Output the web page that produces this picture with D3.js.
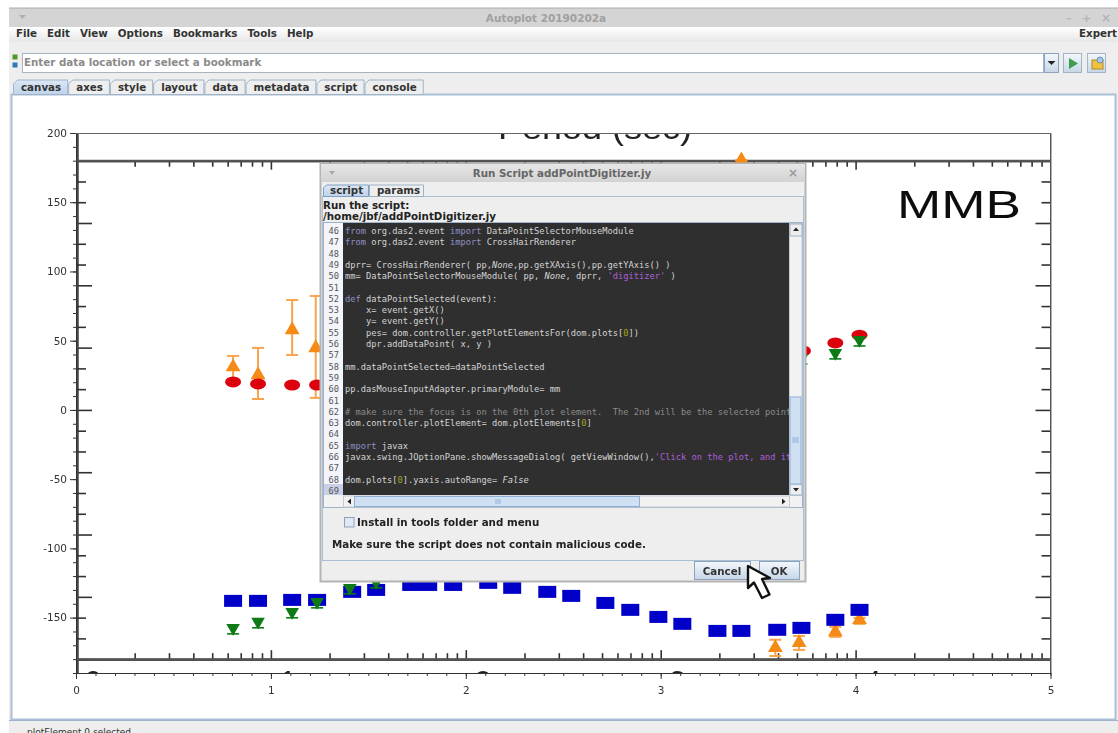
<!DOCTYPE html>
<html>
<head>
<meta charset="utf-8">
<script src="https://cdn.jsdelivr.net/npm/d3@7/dist/d3.min.js"></script>
<style>
html,body{margin:0;padding:0;background:#fff;overflow:hidden}
svg{display:block}
text{font-family:"DejaVu Sans",sans-serif}
</style>
</head>
<body>
<script>
var width = 1118;
var height = 733;

// chart values. x is log10(period), y is phase in degrees
var blue_x = [0.806,0.934,1.109,1.237,1.417,1.54,1.72,1.807,1.935,2.115,2.238,2.418,2.541,2.716,2.844,2.988,3.111,3.291,3.414,3.598,3.722,3.896,4.02];
var blue_y = [-137.9,-137.9,-137.2,-137.2,-131.4,-130,-126.4,-126.4,-126.4,-124.9,-128.5,-131.4,-134.3,-139.4,-144.4,-149.5,-154.5,-159.6,-159.6,-158.8,-157.4,-151.6,-144.4];
var green_x = [0.806,0.934,1.109,1.237,1.405,1.54,3.722,3.896,4.02];
var green_y = [-157.4,-153,-145.8,-138.6,-128.5,-124.2,37.5,41.2,50.5];
var red_x = [0.806,0.934,1.109,1.237,3.73,3.896,4.02];
var red_y = [20.2,18.8,18,18,42.6,48.4,54];
var orange_x = [0.806,0.934,1.109,1.23,3.414,3.588,3.71,3.896,4.02];
var orange_y = [31,25.3,57.8,44.8,180.5,-171.8,-168.2,-160.3,-151.6];
var orange_hi = [39,44.8,79.4,82.3,180.5,-166,-163.2,-156.6,-150.2];
var orange_lo = [19.5,7.9,39.7,8.7,180.5,-177.7,-173.3,-163.9,-154.5];

var y_labels = [200,150,100,50,0,-50,-100,-150];
var x_labels = [0,1,2,3,4,5];
var decades = [1,2,3,4];
var decade_names = ["0","1","2","3","4"];

var menus = ["File","Edit","View","Options","Bookmarks","Tools","Help"];
var tabs = ["canvas","axes","style","layout","data","metadata","script","console"];
var code_start = 46;
var code_lines = [
"from org.das2.event import DataPointSelectorMouseModule",
"from org.das2.event import CrossHairRenderer",
"",
"dprr= CrossHairRenderer( pp,None,pp.getXAxis(),pp.getYAxis() )",
"mm= DataPointSelectorMouseModule( pp, None, dprr, 'digitizer' )",
"",
"def dataPointSelected(event):",
"    x= event.getX()",
"    y= event.getY()",
"    pes= dom.controller.getPlotElementsFor(dom.plots[0])",
"    dpr.addDataPoint( x, y )",
"",
"mm.dataPointSelected=dataPointSelected",
"",
"pp.dasMouseInputAdapter.primaryModule= mm",
"",
"# make sure the focus is on the 0th plot element.  The 2nd will be the selected point",
"dom.controller.plotElement= dom.plotElements[0]",
"",
"import javax",
"javax.swing.JOptionPane.showMessageDialog( getViewWindow(),'Click on the plot, and it",
"",
"dom.plots[0].yaxis.autoRange= False",
""
];

var svg = d3.select('body').append('svg').attr('width', width).attr('height', height);
var defs = svg.append('defs');

defs.append('filter').attr('id','soft').attr('x','-5%').attr('y','-5%').attr('width','110%').attr('height','110%')
  .append('feGaussianBlur').attr('stdDeviation',0.7);
defs.append('clipPath').attr('id','plot_clip').append('rect').attr('x',76).attr('y',133).attr('width',975).attr('height',540);
defs.append('clipPath').attr('id','code_clip').append('rect').attr('x',343).attr('y',223).attr('width',446).attr('height',272);

function gradient(id, c1, c2) {
  var g = defs.append('linearGradient').attr('id',id).attr('x1',0).attr('x2',0).attr('y1',0).attr('y2',1);
  g.append('stop').attr('offset','0%').attr('stop-color',c1);
  g.append('stop').attr('offset','100%').attr('stop-color',c2);
}
gradient('menu_grad','#ffffff','#e6e6e6');
gradient('btn_grad','#f4f8fc','#c6d6e8');
gradient('title_grad','#e6e6e6','#d2d2d2');
gradient('tab_grad','#dbe7f5','#bfd3ea');

function rect(p, x, y, w, h, fill, stroke) {
  return p.append('rect').attr('x',x).attr('y',y).attr('width',w).attr('height',h)
    .attr('fill',fill).attr('stroke',stroke || 'none');
}
function label(p, x, y, s, size, color, weight) {
  return p.append('text').attr('x',x).attr('y',y).text(s)
    .attr('font-size',size).attr('fill',color).attr('font-weight',weight || 'normal');
}

// ---- main window
var win = svg.append('g');
rect(win,9,8,1109,725,'#eeeeee');
rect(win,9,8,1109,19,'#d4d4d4');
win.append('line').attr('x1',9).attr('x2',1118).attr('y1',8).attr('y2',8).attr('stroke','#aaa');
label(win,546,22,'Autoplot 20190202a',10.5,'#a0a0a0','bold').attr('text-anchor','middle');
win.append('path').attr('d','M19 15h7l-3.5 4z').attr('fill','#b0b0b0');
label(win,1066,22,'–',11,'#b4b4b4','bold');
label(win,1082,22,'+',11,'#b4b4b4','bold');
label(win,1101,22,'×',12,'#b4b4b4','bold');
rect(win,9,27,1109,15,'url(#menu_grad)');

var mx = 16;
menus.forEach(function (m) {
  var t = label(win,mx,37,m,10.3,'#333','bold');
  mx += t.node().getComputedTextLength() + 10;
});
label(win,1079,37,'Expert',10.3,'#333','bold');

// location bar
rect(win,12.5,54.5,5,5,'#4c9a2a');
rect(win,12.5,62.5,5,5,'#2e7ab8');
rect(win,22.5,53.5,1021,19,'#fff','#a8b4c2');
label(win,24,66,'Enter data location or select a bookmark',10.3,'#8a8a8a','bold');
rect(win,1044.5,53.5,14,19,'url(#btn_grad)','#8ca3bb');
win.append('path').attr('d','M1047.5 61h8l-4 4z').attr('fill','#222');
rect(win,1063.5,53.5,18,19,'url(#btn_grad)','#a2b4c6');
win.append('path').attr('d','M1069 58l9 5.5l-9 5.5z').attr('fill','#3f9e4d');
rect(win,1087.5,53.5,18,19,'url(#btn_grad)','#a2b4c6');
rect(win,1092,60,11,9,'#f0c040','#b08a20');
win.append('circle').attr('cx',1100).attr('cy',60).attr('r',3).attr('fill','#a9c8ee').attr('stroke','#6a8fb5');

// canvas panel and tabs
rect(win,11.5,94.5,1104,625,'#fff','#a9bfd6').attr('stroke-width',2);
var tx = 13;
tabs.forEach(function (t, i) {
  var g = win.append('g');
  var txt = label(g,tx+8,91,t,10.3,'#333','bold');
  var w = txt.node().getComputedTextLength() + 15;
  g.insert('path','text')
    .attr('d','M'+(tx+0.5)+' 94.5V84l4-4H'+(tx+w-0.5)+'V94.5z')
    .attr('fill', i == 0 ? 'url(#tab_grad)' : '#eeeeee')
    .attr('stroke','#9fb3c8');
  tx += w;
});
rect(win,9,721,1109,12,'#eeeeee');
win.append('line').attr('x1',9).attr('x2',1118).attr('y1',720.5).attr('y2',720.5).attr('stroke','#9fb3c8');
label(win,27,735,'plotElement 0 selected',9,'#333');

// ---- plot, one scale for the axes and for the digitized picture behind them
var x = d3.scaleLinear().domain([0,5]).range([76,1050.5]);
var y = d3.scaleLinear().domain([200,-190]).range([133,673]);

var pic = svg.append('g').attr('clip-path','url(#plot_clip)');
var soft = pic.append('g').attr('filter','url(#soft)');

var pic_major = d3.range(-180,181,45);
var pic_minor = d3.range(-180,181,15).filter(function (v) { return v % 45 != 0; });
var log_minor = [];
d3.range(0,5).forEach(function (k) {
  d3.range(2,10).forEach(function (m) { log_minor.push(k + Math.log10(m)); });
});

function pic_axis(axis, values, size, tx, ty) {
  var g = soft.append('g').attr('transform','translate('+tx+','+ty+')')
    .call(axis.tickValues(values).tickSize(size).tickSizeOuter(0).tickFormat(''));
  g.selectAll('line').attr('stroke','#333').attr('stroke-width',1.6);
  g.selectAll('path').attr('stroke','#444').attr('stroke-width',2);
}
pic_axis(d3.axisRight(y), pic_major, 15, x(0)+1, 0);
pic_axis(d3.axisRight(y), pic_minor, 9, x(0)+1, 0);
pic_axis(d3.axisLeft(y), pic_major, 15, x(5), 0);
pic_axis(d3.axisLeft(y), pic_minor, 9, x(5), 0);
pic_axis(d3.axisBottom(x), log_minor, 6, 0, y(180));
pic_axis(d3.axisBottom(x), decades, 9, 0, y(180));
pic_axis(d3.axisTop(x), log_minor, 6, 0, y(-180));
pic_axis(d3.axisTop(x), decades, 9, 0, y(-180));

soft.selectAll('.frame').data([180,-180]).enter().append('line').attr('class','frame')
  .attr('x1',x(0)).attr('x2',x(5)).attr('y1',y).attr('y2',y)
  .attr('stroke','#555').attr('stroke-width',2);

soft.selectAll('.dec').data(decade_names).enter().append('text').attr('class','dec')
  .attr('x',function (d, i) { return x(i) + 17; })
  .attr('y',y(-180)+34)
  .attr('text-anchor','middle')
  .attr('font-size',31).attr('fill','#222')
  .style('font-family','"Liberation Sans",sans-serif')
  .text(function (d) { return d; });

soft.append('text').attr('x',498).attr('y',139).text('Period (sec)')
  .attr('textLength',194).attr('lengthAdjust','spacingAndGlyphs')
  .attr('font-size',31).attr('fill','#222')
  .style('font-family','"Liberation Sans",sans-serif');

soft.append('text').attr('x',897).attr('y',218).text('MMB')
  .attr('textLength',124).attr('lengthAdjust','spacingAndGlyphs')
  .attr('font-size',39).attr('fill','#111')
  .style('font-family','"Liberation Sans",sans-serif');

var marks = pic.append('g').attr('filter','url(#soft)');

// orange triangles and their error bars
var ob = marks.selectAll('.ob').data(orange_x).enter().append('g').attr('class','ob')
  .attr('stroke','#f7a44e').attr('stroke-width',2);
ob.append('line').attr('x1',function (d) { return x(d); }).attr('x2',function (d) { return x(d); })
  .attr('y1',function (d, i) { return y(orange_hi[i]); }).attr('y2',function (d, i) { return y(orange_lo[i]); });
[orange_hi, orange_lo].forEach(function (arr) {
  ob.append('line').attr('x1',function (d) { return x(d)-6; }).attr('x2',function (d) { return x(d)+6; })
    .attr('y1',function (d, i) { return y(arr[i]); }).attr('y2',function (d, i) { return y(arr[i]); });
});
marks.selectAll('.ot').data(orange_x).enter().append('path').attr('class','ot')
  .attr('d',d3.symbol().type(d3.symbolTriangle).size(95))
  .attr('transform',function (d, i) { return 'translate('+x(d)+','+y(orange_y[i])+')'; })
  .attr('fill','#f58a12');

// red circles, drawn as flattened dots like the source picture
marks.selectAll('.rd').data(red_x).enter().append('ellipse').attr('class','rd')
  .attr('cx',function (d) { return x(d); })
  .attr('cy',function (d, i) { return y(red_y[i]); })
  .attr('rx',8).attr('ry',5.5).attr('fill','#dd0010');

// blue squares
marks.selectAll('.bs').data(blue_x).enter().append('rect').attr('class','bs')
  .attr('x',function (d) { return x(d)-9; })
  .attr('y',function (d, i) { return y(blue_y[i])-6; })
  .attr('width',18).attr('height',12).attr('fill','#0000c8');

// green down triangles
var gb = marks.selectAll('.gb').data(green_x).enter().append('g').attr('class','gb')
  .attr('transform',function (d, i) { return 'translate('+x(d)+','+y(green_y[i])+')'; });
gb.append('path').attr('d',d3.symbol().type(d3.symbolTriangle).size(80))
  .attr('transform','rotate(180)').attr('fill','#0a7a14');
gb.append('line').attr('x1',-6).attr('x2',6).attr('y1',6).attr('y2',6).attr('stroke','#0a7a14').attr('stroke-width',1.6);
gb.append('line').attr('y1',0).attr('y2',6).attr('stroke','#0a7a14').attr('stroke-width',2);

// plot axes
var axis_color = '#333';
function plot_axis(axis, values, size, tx, ty, fmt) {
  var g = svg.append('g').attr('transform','translate('+tx+','+ty+')')
    .call(axis.tickValues(values).tickSize(size).tickSizeOuter(0).tickFormat(fmt));
  g.selectAll('line').attr('stroke',axis_color);
  g.selectAll('path').attr('stroke',axis_color);
  g.selectAll('text').attr('fill','#333').attr('font-size',10.5).style('font-family','"DejaVu Sans",sans-serif');
  return g;
}
var fmt_int = function (d) { return d; };
plot_axis(d3.axisLeft(y), d3.range(-190,201,10), 3, x(0), 0, '');
plot_axis(d3.axisLeft(y), y_labels, 6, x(0), 0, fmt_int);
plot_axis(d3.axisBottom(x), d3.range(0,5.01,0.1), 3, 0, y(-190), '');
plot_axis(d3.axisBottom(x), x_labels, 6, 0, y(-190), fmt_int).selectAll('text').attr('dy','1.1em');
svg.append('line').attr('x1',x(0)).attr('x2',x(5)).attr('y1',y(200)+0.5).attr('y2',y(200)+0.5).attr('stroke','#666');
svg.append('line').attr('x1',x(5)+0.5).attr('x2',x(5)+0.5).attr('y1',y(200)).attr('y2',y(-190)).attr('stroke','#666');

// ---- Run Script dialog on top of the plot
var dlg = svg.append('g');
rect(dlg,320.5,163.5,485,418,'#eeeeee','#b4b4b4').attr('stroke-width',2);
rect(dlg,321,164,484,18,'url(#title_grad)');
dlg.append('path').attr('d','M329 171h6l-3 4z').attr('fill','#a8a8a8');
label(dlg,562,177,'Run Script addPointDigitizer.jy',10.3,'#666','bold').attr('text-anchor','middle');
label(dlg,788,177,'×',12,'#999','bold');

rect(dlg,322.5,196.5,481,364,'#eeeeee','#a9bfd6');
dlg.append('path').attr('d','M323.5 196.5V188l3-3H368.5V196.5z').attr('fill','url(#tab_grad)').attr('stroke','#7fa0c4');
dlg.append('path').attr('d','M369.5 196.5V185H423.5V196.5z').attr('fill','#eeeeee').attr('stroke','#9fb3c8');
label(dlg,330,194,'script',10.3,'#333','bold');
label(dlg,377,194,'params',10.3,'#333','bold');
label(dlg,323,209,'Run the script:',10.3,'#222','bold');
label(dlg,323,220,'/home/jbf/addPointDigitizer.jy',10.3,'#222','bold');

rect(dlg,323.5,222.5,479,285,'#f2f2f2','#9fb3c8');
rect(dlg,324,223,19,272,'#f3f5fb');
rect(dlg,324,484,19,11,'#c9cfe6');
rect(dlg,343,223,446,272,'#2f2f2f');

// line numbers and the jython listing
var line_y = d3.scaleLinear().domain([0,code_lines.length-1]).range([234,494]);
var gutter = dlg.selectAll('.num').data(code_lines).enter().append('text').attr('class','num')
  .attr('x',339).attr('y',function (d, i) { return line_y(i); })
  .attr('text-anchor','end').attr('font-size',8.7).attr('fill','#555')
  .style('font-family','"DejaVu Sans Mono",monospace')
  .text(function (d, i) { return code_start + i; });

var token_re = /(#.*$)|('[^']*'?)|\b(from|import|def)\b|\b(None|False)\b|\b(0)\b/g;
var code_colors = { plain:'#d4d4d4', comment:'#8b8b8b', str:'#ae5fd8', kw:'#8f8fc4', it:'#d4d4d4', num:'#a6a61e' };
var code_g = dlg.append('g').attr('clip-path','url(#code_clip)');
code_lines.forEach(function (s, i) {
  var t = code_g.append('text').attr('x',345).attr('y',line_y(i)).attr('font-size',8.72)
    .attr('xml:space','preserve').style('white-space','pre')
    .style('font-family','"DejaVu Sans Mono",monospace');
  var pos = 0, m;
  function add(part, c, italic) {
    if (!part) return;
    var sp = t.append('tspan').text(part).attr('fill',code_colors[c]);
    if (italic) sp.attr('font-style','italic');
  }
  token_re.lastIndex = 0;
  while ((m = token_re.exec(s)) !== null) {
    add(s.slice(pos, m.index), 'plain');
    if (m[1]) add(m[1],'comment');
    else if (m[2]) add(m[2],'str');
    else if (m[3]) add(m[3],'kw');
    else if (m[4]) add(m[4],'it',true);
    else add(m[5],'num');
    pos = m.index + m[0].length;
  }
  add(s.slice(pos),'plain');
});

// scrollbars
rect(dlg,789.5,223.5,12.5,272,'#f2f2f2','#c0ccd8');
rect(dlg,790,224,12,12,'#eeeeee','#9fb3c8');
dlg.append('path').attr('d','M793 231h6l-3-3.5z').attr('fill','#222');
rect(dlg,790,484,12,11,'#eeeeee','#9fb3c8');
dlg.append('path').attr('d','M793 488h6l-3 3.5z').attr('fill','#222');
rect(dlg,790,397,11,87,'#cfe0f3','#8fb0d4');
dlg.append('path').attr('d','M792 438h7M792 440h7M792 442h7').attr('stroke','#8fb0d4');
rect(dlg,343.5,496,446,11,'#f2f2f2','#c0ccd8');
dlg.append('path').attr('d','M351 498.5v6l-3.5-3z').attr('fill','#222');
dlg.append('path').attr('d','M782 498.5v6l3.5-3z').attr('fill','#222');
rect(dlg,354.5,496.5,285,10,'#cfe0f3','#8fb0d4');
dlg.append('path').attr('d','M496 499v5M498 499v5M500 499v5').attr('stroke','#8fb0d4');

rect(dlg,344.5,517.5,9.5,9.5,'#dfe8f3','#8ca3bb');
label(dlg,357,526,'Install in tools folder and menu',10.3,'#222','bold');
label(dlg,332,548,'Make sure the script does not contain malicious code.',10.3,'#222','bold');

rect(dlg,694.5,561.5,56,18,'url(#btn_grad)','#8ca3bb');
label(dlg,722,574.5,'Cancel',10.3,'#333','bold').attr('text-anchor','middle');
rect(dlg,759.5,561.5,40,18,'url(#btn_grad)','#8ca3bb');
label(dlg,779,574.5,'OK',10.3,'#333','bold').attr('text-anchor','middle');

// mouse pointer
svg.append('path')
  .attr('d','M748 566V588L754 582.5L762 598L769.5 594.5L762 579L770 578Z')
  .attr('fill','#fff').attr('stroke','#111').attr('stroke-width',2.4).attr('stroke-linejoin','round');
</script>
</body>
</html>
